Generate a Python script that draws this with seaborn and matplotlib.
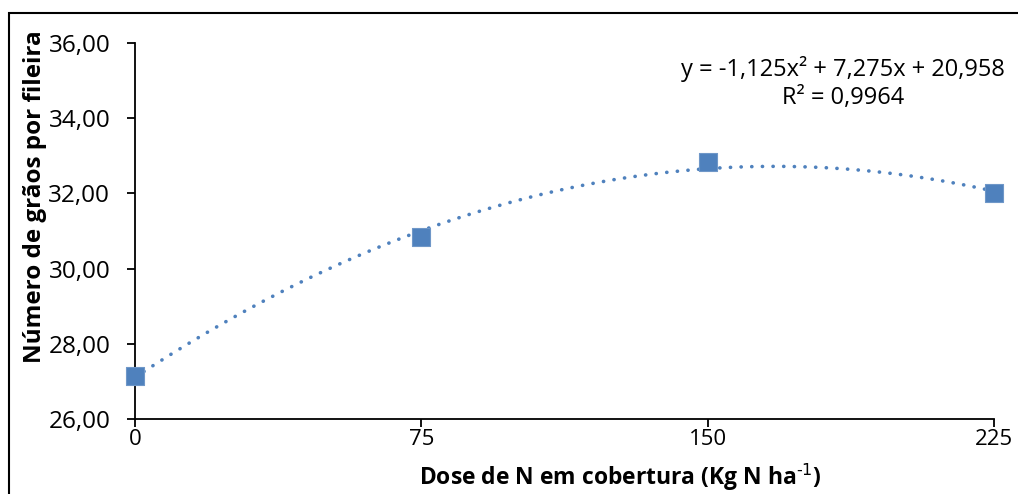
import numpy as np
import pandas as pd
import matplotlib
matplotlib.use("Agg")
import matplotlib.pyplot as plt
import seaborn as sns
from matplotlib.patches import Rectangle
from matplotlib.ticker import FuncFormatter

# Observed means
doses = [0, 75, 150, 225]
graos = [27.14, 30.84, 32.83, 32.01]

# Quadratic trend (x = treatment index 1..4)
coef_a, coef_b, coef_c = -1.125, 7.275, 20.958
r2 = 0.9964

y_ticks = [26, 28, 30, 32, 34, 36]
x_ticks = [0, 75, 150, 225]

sns.set_theme(style="white")
plt.rcParams["font.family"] = ["Open Sans", "DejaVu Sans"]
plt.rcParams["mathtext.default"] = "regular"

blue = "#4F81BD"

fig = plt.figure(figsize=(10.18, 4.94), dpi=100)
ax = fig.add_axes([135 / 1018, 75 / 494, (994 - 135) / 1018, (419 - 43) / 494])

df = pd.DataFrame({"dose": doses, "graos": graos})

xs = np.linspace(0, 225, 300)
idx = 1 + xs / 75
trend = pd.DataFrame({"dose": xs, "y": coef_a * idx**2 + coef_b * idx + coef_c})
sns.lineplot(data=trend, x="dose", y="y", ax=ax, color=blue, linewidth=2.6,
             linestyle=(0, (0.05, 2.9)), dash_capstyle="round", zorder=2)

sns.scatterplot(data=df, x="dose", y="graos", ax=ax, marker="s", s=175,
                color=blue, edgecolor="#6F97C8", linewidth=0.8, zorder=3,
                clip_on=False)

ax.set_xlim(0, 225)
ax.set_ylim(26, 36)
ax.set_xticks(x_ticks)
ax.set_yticks(y_ticks)
ax.yaxis.set_major_formatter(FuncFormatter(lambda v, p: f"{v:.2f}".replace(".", ",")))
ax.set_xticklabels([str(t) for t in x_ticks])

for side in ["top", "right"]:
    ax.spines[side].set_visible(False)
for side in ["left", "bottom"]:
    ax.spines[side].set_color("black")
    ax.spines[side].set_linewidth(1.3)

ax.tick_params(axis="both", which="major", direction="out", length=5.8, width=1.3,
               color="black", labelcolor="black", left=True, bottom=True)
ax.tick_params(axis="y", pad=12, labelsize=17.5)
ax.tick_params(axis="x", pad=1.5, labelsize=16)

ax.set_xlabel("")
ax.set_ylabel("")

fig.text(620 / 1018, 1 - 485 / 494, r"Dose de N em cobertura (Kg N ha$^{\text{-1}}$)",
         ha="center", va="baseline", fontsize=16.5, fontweight="bold", color="black")
fig.text(35 / 1018, 1 - 197 / 494, "Número de grãos por fileira", rotation=90,
         ha="center", va="center", fontsize=17.5, fontweight="bold", color="black")

fig.text(843 / 1018, 1 - 83 / 494,
         "y = -1,125x² + 7,275x + 20,958\nR² = 0,9964",
         ha="center", va="center", fontsize=17, color="black", linespacing=1.2)

# Chart area border
fig.patches.append(Rectangle((9 / 1018, -0.05), 1.2, 1 - 13 / 494 + 0.05,
                             transform=fig.transFigure, fill=False,
                             edgecolor="black", linewidth=1.5))

fig.savefig("out.png", dpi=100)
